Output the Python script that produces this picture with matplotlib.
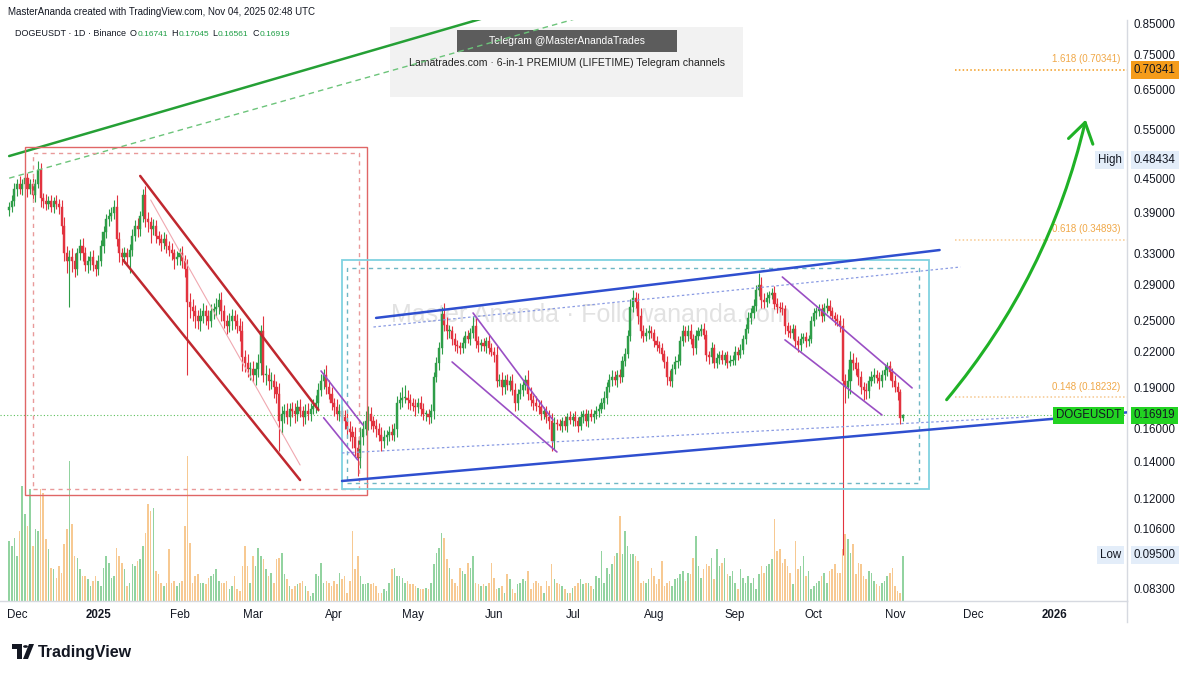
import matplotlib
matplotlib.use('Agg')
import matplotlib.pyplot as plt
import matplotlib.dates as mdates
import matplotlib.transforms as mtransforms
from matplotlib.patches import Rectangle, FancyArrowPatch, Polygon, Circle
from matplotlib.ticker import FixedLocator, NullLocator, FuncFormatter
import numpy as np
import pandas as pd

plt.rcParams['font.family'] = ['Liberation Sans', 'DejaVu Sans']

W, H = 1200, 675

# ---- данные: дневные свечи DOGEUSDT (оценка по картинке) ----
start_day = '2024-11-28'
first_open = 0.395
closes = [
    0.400, 0.410, 0.430, 0.440, 0.430, 0.440, 0.450, 0.430, 0.440, 0.420,
    0.440, 0.465, 0.415, 0.410, 0.405, 0.410, 0.400, 0.410, 0.405, 0.400,
    0.370, 0.330, 0.320, 0.325, 0.320, 0.310, 0.330, 0.340, 0.330, 0.315,
    0.320, 0.325, 0.315, 0.310, 0.320, 0.340, 0.360, 0.380, 0.385, 0.390,
    0.400, 0.350, 0.330, 0.325, 0.330, 0.325, 0.335, 0.355, 0.370, 0.365,
    0.385, 0.420, 0.380, 0.375, 0.365, 0.370, 0.355, 0.350, 0.345, 0.350,
    0.340, 0.335, 0.330, 0.322, 0.325, 0.330, 0.320, 0.310, 0.270, 0.265,
    0.260, 0.255, 0.250, 0.255, 0.260, 0.255, 0.250, 0.260, 0.262, 0.265,
    0.272, 0.260, 0.250, 0.245, 0.250, 0.255, 0.250, 0.245, 0.240, 0.215,
    0.210, 0.205, 0.205, 0.200, 0.205, 0.210, 0.240, 0.200, 0.200, 0.195,
    0.195, 0.190, 0.185, 0.165, 0.170, 0.172, 0.168, 0.174, 0.172, 0.170,
    0.175, 0.172, 0.168, 0.172, 0.170, 0.174, 0.176, 0.178, 0.188, 0.195,
    0.200, 0.190, 0.185, 0.178, 0.175, 0.170, 0.172, 0.168, 0.165, 0.160,
    0.158, 0.155, 0.148, 0.142, 0.155, 0.160, 0.165, 0.170, 0.165, 0.162,
    0.160, 0.156, 0.152, 0.155, 0.156, 0.158, 0.156, 0.160, 0.178, 0.180,
    0.182, 0.182, 0.180, 0.178, 0.176, 0.175, 0.178, 0.174, 0.170, 0.170,
    0.168, 0.172, 0.198, 0.210, 0.223, 0.257, 0.246, 0.240, 0.240, 0.232,
    0.226, 0.225, 0.223, 0.228, 0.235, 0.232, 0.238, 0.245, 0.230, 0.226,
    0.228, 0.225, 0.230, 0.223, 0.220, 0.217, 0.195, 0.196, 0.190, 0.196,
    0.192, 0.195, 0.188, 0.178, 0.185, 0.188, 0.192, 0.196, 0.185, 0.180,
    0.178, 0.176, 0.175, 0.170, 0.172, 0.168, 0.165, 0.152, 0.164, 0.163,
    0.162, 0.165, 0.162, 0.168, 0.166, 0.168, 0.165, 0.162, 0.168, 0.170,
    0.165, 0.170, 0.168, 0.170, 0.172, 0.174, 0.178, 0.182, 0.190, 0.196,
    0.198, 0.196, 0.200, 0.198, 0.212, 0.218, 0.235, 0.265, 0.275, 0.270,
    0.255, 0.240, 0.235, 0.238, 0.240, 0.238, 0.230, 0.226, 0.223, 0.218,
    0.211, 0.198, 0.195, 0.205, 0.211, 0.212, 0.230, 0.240, 0.235, 0.240,
    0.232, 0.223, 0.235, 0.240, 0.242, 0.236, 0.217, 0.215, 0.223, 0.210,
    0.214, 0.217, 0.213, 0.217, 0.210, 0.212, 0.213, 0.220, 0.217, 0.222,
    0.232, 0.242, 0.253, 0.258, 0.266, 0.284, 0.290, 0.272, 0.270, 0.275,
    0.278, 0.280, 0.268, 0.265, 0.264, 0.262, 0.245, 0.240, 0.238, 0.242,
    0.230, 0.226, 0.232, 0.234, 0.230, 0.232, 0.250, 0.258, 0.260, 0.262,
    0.255, 0.264, 0.266, 0.260, 0.255, 0.252, 0.250, 0.245, 0.195, 0.190,
    0.195, 0.213, 0.210, 0.205, 0.198, 0.190, 0.188, 0.187, 0.195, 0.198,
    0.200, 0.197, 0.195, 0.200, 0.204, 0.207, 0.202, 0.195, 0.190, 0.186,
    0.16741, 0.16919,
]
# тени свечей, в тысячных долях доллара
wick_up = [
    8, 10, 12, 9, 14, 8, 12, 10, 9, 11, 8, 19, 15, 9, 12, 8, 10, 7, 9, 8,
    12, 14, 10, 9, 12, 10, 8, 10, 12, 9, 7, 8, 10, 6, 8, 9, 10, 8, 12, 10,
    12, 20, 10, 8, 9, 7, 8, 10, 9, 12, 8, 10, 15, 12, 8, 10, 9, 7, 8, 10,
    8, 7, 9, 6, 8, 7, 10, 8, 12, 10, 8, 7, 6, 8, 9, 7, 6, 8, 7, 10,
    8, 9, 7, 6, 8, 7, 6, 7, 8, 10, 7, 8, 6, 7, 6, 8, 6, 15, 8, 6,
    7, 6, 5, 8, 6, 5, 6, 4, 5, 6, 5, 6, 4, 5, 6, 4, 5, 6, 5, 6,
    5, 8, 6, 5, 4, 6, 5, 4, 5, 6, 5, 4, 6, 5, 6, 5, 7, 6, 5, 4,
    5, 4, 5, 4, 3, 4, 5, 4, 5, 6, 8, 10, 6, 5, 4, 5, 4, 5, 4, 3,
    4, 5, 4, 5, 6, 8, 12, 8, 6, 5, 6, 5, 4, 6, 5, 6, 5, 10, 8, 5,
    4, 5, 4, 6, 5, 4, 8, 5, 6, 4, 5, 4, 6, 5, 4, 5, 4, 4, 8, 5,
    4, 5, 4, 5, 3, 4, 5, 6, 4, 3, 4, 3, 4, 3, 4, 3, 4, 3, 4, 3,
    4, 3, 4, 3, 4, 3, 4, 5, 4, 5, 6, 5, 4, 5, 4, 5, 6, 8, 9, 7,
    10, 8, 6, 5, 6, 5, 4, 5, 4, 5, 4, 5, 6, 4, 5, 6, 5, 6, 5, 6,
    7, 5, 6, 4, 5, 6, 5, 4, 6, 4, 5, 4, 5, 3, 4, 5, 4, 5, 4, 5,
    4, 5, 6, 5, 7, 6, 15, 10, 8, 6, 5, 6, 8, 6, 5, 6, 5, 4, 6, 5,
    4, 5, 6, 4, 5, 4, 5, 6, 5, 6, 6, 5, 8, 6, 5, 4, 5, 6, 8, 6,
    10, 8, 6, 5, 6, 5, 4, 5, 4, 5, 6, 4, 5, 4, 5, 4, 5, 4, 5, 4,
    3, 1,
]
wick_dn = [
    10, 8, 9, 12, 8, 10, 8, 14, 9, 10, 12, 8, 15, 12, 10, 8, 9, 10, 8, 12,
    12, 10, 15, 55, 14, 10, 8, 9, 10, 8, 10, 12, 8, 9, 8, 7, 9, 8, 10, 8,
    9, 10, 12, 10, 8, 10, 20, 9, 8, 12, 10, 9, 12, 15, 20, 9, 10, 8, 12, 9,
    10, 8, 9, 12, 8, 10, 9, 10, 70, 12, 10, 12, 8, 10, 7, 9, 8, 6, 8, 7,
    8, 10, 7, 8, 6, 9, 8, 7, 10, 12, 8, 7, 9, 6, 8, 7, 10, 6, 8, 7,
    6, 8, 7, 19, 8, 6, 5, 6, 4, 6, 5, 4, 6, 5, 4, 5, 4, 5, 6, 5,
    6, 5, 4, 5, 6, 4, 5, 4, 5, 6, 6, 7, 5, 10, 6, 5, 4, 6, 5, 4,
    5, 4, 6, 4, 5, 4, 3, 4, 5, 4, 5, 4, 6, 5, 4, 6, 4, 5, 4, 5,
    5, 4, 5, 4, 6, 5, 6, 8, 7, 6, 5, 6, 5, 4, 5, 4, 6, 5, 7, 6,
    5, 4, 6, 5, 4, 6, 5, 4, 6, 5, 4, 5, 4, 6, 5, 4, 5, 4, 5, 4,
    5, 4, 5, 4, 3, 4, 5, 6, 5, 4, 3, 4, 3, 4, 3, 4, 3, 4, 3, 4,
    3, 4, 3, 4, 3, 4, 3, 4, 5, 4, 5, 4, 6, 5, 4, 5, 4, 5, 6, 7,
    8, 7, 6, 5, 6, 5, 6, 5, 4, 5, 5, 6, 4, 5, 4, 5, 4, 5, 6, 5,
    5, 6, 5, 4, 5, 4, 5, 6, 5, 4, 4, 5, 4, 5, 4, 3, 4, 5, 4, 3,
    4, 5, 4, 6, 5, 6, 7, 8, 6, 5, 6, 5, 6, 7, 5, 6, 8, 6, 5, 6,
    7, 6, 5, 4, 6, 5, 4, 5, 6, 5, 6, 5, 6, 5, 4, 6, 5, 6, 100, 12,
    8, 10, 6, 5, 6, 5, 8, 6, 5, 4, 5, 4, 6, 5, 4, 5, 6, 5, 4, 6,
    4, 2,
]
# объём (условные единицы)
volume = [
    60, 55, 63, 45, 70, 115, 87, 75, 112, 55, 72, 70, 112, 108, 62, 52, 33, 32, 23, 35,
    28, 57, 72, 140, 77, 45, 43, 32, 25, 25, 22, 15, 20, 25, 20, 15, 33, 45, 38, 23,
    25, 53, 45, 38, 32, 15, 18, 37, 35, 40, 42, 55, 68, 97, 90, 93, 30, 27, 18, 15,
    18, 52, 18, 20, 15, 18, 20, 75, 145, 58, 18, 25, 27, 18, 18, 17, 23, 25, 27, 32,
    20, 18, 18, 20, 12, 15, 25, 12, 10, 35, 55, 35, 18, 45, 35, 53, 45, 42, 32, 25,
    28, 18, 42, 43, 48, 27, 22, 15, 12, 15, 17, 18, 20, 15, 10, 5, 8, 27, 25, 38,
    18, 20, 18, 15, 20, 17, 28, 22, 25, 8, 20, 70, 32, 45, 25, 17, 17, 18, 17, 18,
    15, 8, 8, 12, 10, 18, 32, 33, 25, 25, 23, 18, 20, 17, 17, 15, 13, 12, 12, 13,
    12, 18, 37, 48, 53, 68, 63, 42, 33, 22, 18, 15,
    33, 30, 27, 38, 33, 45, 18, 17, 15, 17, 15, 18, 38, 23, 12, 13, 15, 8, 27, 22,
    12, 8, 17, 18, 22, 20, 30, 12, 18, 20, 18, 15, 8, 20, 15, 37, 22, 18, 17, 15,
    12, 8, 8, 13, 15, 18, 22, 17, 18, 18, 15, 12, 25, 23, 50, 18, 33, 27, 37, 45,
    48, 85, 47, 70, 55, 47, 47, 45, 40, 18, 20, 18,
    22, 33, 25, 17, 22, 40, 15, 18, 20, 15, 22, 23, 27, 30, 20, 28, 27, 43, 65, 35,
    23, 32, 37, 35, 43, 22, 52, 35, 38, 43, 27, 25, 30, 18, 12, 32, 23, 18, 25, 18,
    23, 12, 27, 35, 28, 35, 37, 42, 82, 50, 52, 38, 42, 35, 28, 17, 60, 32, 35, 45,
    25, 30, 12, 15, 18, 20, 25, 28, 18, 30, 32, 37, 28, 28, 52, 67, 62, 48, 57, 27,
    38, 37, 25, 22, 30, 28, 20, 17, 15, 18, 20, 25, 28, 33, 15, 10, 8, 45,
]

ohlc_last = [0.16741, 0.17045, 0.16561, 0.16919]
last_price = 0.16919
high_price = 0.48434
low_price = 0.09500
fib_ratios = ['1.618', '0.618', '0.148']
fib_prices = [0.70341, 0.34893, 0.18232]
fib_start = '2025-11-24'

price_ticks = [0.85, 0.75, 0.65, 0.55, 0.45, 0.39, 0.33, 0.29, 0.25, 0.22,
               0.19, 0.16, 0.14, 0.12, 0.106, 0.083]
month_ticks = ['2024-12-01', '2025-01-01', '2025-02-01', '2025-03-01', '2025-04-01',
               '2025-05-01', '2025-06-01', '2025-07-01', '2025-08-01', '2025-09-01',
               '2025-10-01', '2025-11-01', '2025-12-01', '2026-01-01']
month_labels = ['Dec', '2025', 'Feb', 'Mar', 'Apr', 'May', 'Jun', 'Jul', 'Aug',
                'Sep', 'Oct', 'Nov', 'Dec', '2026']

# ---- рисунки на графике (дата, цена) ----
green_trend = [('2024-11-28', 0.493), ('2025-05-27', 0.868)]
green_trend_dash = [('2024-11-28', 0.450), ('2025-07-02', 0.868)]
red_box = [('2024-12-04', 0.512), ('2025-04-13 12:00', 0.1219)]
red_box_inner = [('2024-12-07', 0.4993), ('2025-04-10 12:00', 0.125)]
cyan_box = [('2025-04-04', 0.3211), ('2025-11-14', 0.125)]
cyan_box_inner = [('2025-04-06', 0.311), ('2025-11-10', 0.1281)]
blue_upper = [('2025-04-17', 0.2529), ('2025-11-18', 0.3346)]
blue_lower = [('2025-04-04', 0.1291), ('2026-01-29', 0.1714)]
blue_upper_dot = [('2025-04-16', 0.2436), ('2025-11-26', 0.312)]
blue_lower_dot = [('2025-04-04', 0.1449), ('2025-12-22', 0.1681)]
red_chan_upper = [('2025-01-17', 0.4542), ('2025-03-26', 0.1731)]
red_chan_lower = [('2025-01-10 12:00', 0.3211), ('2025-03-19', 0.1296)]
red_chan_mid = [('2025-01-21', 0.4114), ('2025-03-19', 0.1379)]
purple_lines = [
    [('2025-03-27', 0.2032), ('2025-04-12', 0.1626)],
    [('2025-03-28', 0.1675), ('2025-04-10', 0.1408)],
    [('2025-05-24', 0.2581), ('2025-06-23 12:00', 0.166)],
    [('2025-05-16', 0.2109), ('2025-06-25', 0.1455)],
    [('2025-09-19', 0.2994), ('2025-11-07 12:00', 0.1895)],
    [('2025-09-20', 0.231), ('2025-10-27', 0.1695)],
]
arrow_path = [('2025-11-20', 0.1789), ('2026-01-13', 0.5793)]


def d(s):
    return mdates.date2num(pd.Timestamp(s))


def fx(x):
    return x / W


def fy(y):
    return 1 - y / H


n = min(len(closes), len(wick_up), len(wick_dn), len(volume))
dates = pd.date_range(start_day, periods=n, freq='D')
x = mdates.date2num(dates)
c = np.array(closes[:n])
o = np.array([first_open] + closes[:n - 1])
hi = np.maximum(o, c) + np.array(wick_up[:n]) / 1000
lo = np.minimum(o, c) - np.array(wick_dn[:n]) / 1000
up = c >= o

fig = plt.figure(figsize=(12, 6.75), dpi=100)
fig.patch.set_facecolor('white')
rect = [0, 1 - 601 / H, 1127 / W, (601 - 20) / H]
ax_v = fig.add_axes(rect)
ax = fig.add_axes(rect, sharex=ax_v)
ax.patch.set_visible(False)

# объём на нижней оси
ax_v.bar(x, volume[:n], width=0.6, color=np.where(up, '#92d3a0', '#f7c992'), zorder=1)
ax_v.set_ylim(0, 581)
ax_v.axis('off')

# водяные знаки и блок с рекламой (под линиями)
ax_v.add_patch(Rectangle((fx(390), fy(97)), 353 / W, 70 / H, transform=fig.transFigure,
                         fc='#f2f2f2', ec='none', zorder=0))
ax_v.add_patch(Rectangle((fx(457), fy(52)), 220 / W, 22 / H, transform=fig.transFigure,
                         fc='#5c5c5c', ec='none', zorder=0.5))
ax_v.text(fx(567), fy(41), 'Telegram @MasterAnandaTrades', transform=fig.transFigure,
          ha='center', va='center', color='white', fontsize=7.5)
ax_v.text(fx(567), fy(63), 'Lamatrades.com · 6-in-1 PREMIUM (LIFETIME) Telegram channels',
          transform=fig.transFigure, ha='center', va='center', color='#222222', fontsize=7.6)
ax_v.text(fx(591), fy(315), 'Master Ananda · Followananda.com', transform=fig.transFigure,
          ha='center', va='center', color='#e2e2e2', fontsize=18)

# свечи
body_bot = np.minimum(o, c)
body_h = np.maximum(np.abs(c - o), 0.0006)
col = np.where(up, '#2e9d48', '#e2333f')
ax.vlines(x, lo, hi, colors=col, lw=0.8, zorder=3)
ax.bar(x, body_h, bottom=body_bot, width=0.8, color=col, ec=col, lw=0.3, zorder=3)

ax.set_yscale('log')
ax.set_ylim(0.0787, 0.864)
ax.set_xlim(x[0] - 3.49, x[0] + 426.5)


def seg(pts, **kw):
    (d0, p0), (d1, p1) = pts
    ax.plot([d(d0), d(d1)], [p0, p1], solid_capstyle='round', **kw)


def box(pts, **kw):
    (d0, p0), (d1, p1) = pts
    ax.add_patch(Rectangle((d(d0), p1), d(d1) - d(d0), p0 - p1, fill=False, **kw))


seg(green_trend, color='#25a035', lw=1.8, zorder=4)
seg(green_trend_dash, color='#6cc47a', lw=1.0, ls=(0, (4, 3)), zorder=4)
box(red_box, ec='#e06666', lw=1.0, zorder=4)
box(red_box_inner, ec='#e99a9a', lw=1.0, ls=(0, (3, 3)), zorder=4)
box(cyan_box, ec='#80d2e0', lw=1.3, zorder=4)
box(cyan_box_inner, ec='#6fb7c4', lw=1.0, ls=(0, (3, 3)), zorder=4)
seg(blue_upper, color='#2f4fcf', lw=1.8, zorder=5)
seg(blue_lower, color='#2f4fcf', lw=1.8, zorder=5)
seg(blue_upper_dot, color='#8a9be3', lw=0.9, ls=(0, (2, 2)), zorder=4)
seg(blue_lower_dot, color='#8a9be3', lw=0.9, ls=(0, (2, 2)), zorder=4)
seg(red_chan_upper, color='#c0282f', lw=1.8, zorder=5)
seg(red_chan_lower, color='#c0282f', lw=1.8, zorder=5)
seg(red_chan_mid, color='#f0a8b0', lw=0.8, zorder=4)
for pts in purple_lines:
    seg(pts, color='#9a4fc4', lw=1.2, zorder=5)

# текущая цена
ax.axhline(last_price, color='#5cc05c', lw=0.8, ls=(0, (1, 2)), zorder=2)

# уровни Фибоначчи
fib_colors = ['#f29a1c', '#f8c98e', '#f6c88f']
blend = mtransforms.blended_transform_factory(ax.transAxes, ax.transData)
for ratio, level, fc in zip(fib_ratios, fib_prices, fib_colors):
    ax.hlines(level, d(fib_start), ax.get_xlim()[1], colors=fc, lw=1.1,
              linestyles=(0, (1, 1.5)), zorder=4)
    ax.annotate(f'{ratio} ({level:.5f})', xy=(0.994, level), xycoords=blend,
                xytext=(0, 4), textcoords='offset points', ha='right', va='bottom',
                color='#f0a848', fontsize=7)

# зелёная стрелка вверх
(a0, pa), (a1, pb) = arrow_path
ax.add_patch(FancyArrowPatch((d(a0), pa), (d(a1), pb), connectionstyle='arc3,rad=0.12',
                             arrowstyle='->,head_length=0.7,head_width=0.45',
                             mutation_scale=20, color='#1fb126', lw=2.2, zorder=6))

# оси
for s in ['left', 'top']:
    ax.spines[s].set_visible(False)
for s in ['right', 'bottom']:
    ax.spines[s].set_color('#d6d9e0')
    ax.spines[s].set_linewidth(1.0)
ax.yaxis.tick_right()
ax.yaxis.set_major_locator(FixedLocator(price_ticks))
ax.yaxis.set_minor_locator(NullLocator())
ax.yaxis.set_major_formatter(FuncFormatter(lambda v, _: f'{v:.5f}'))
ax.tick_params(axis='y', length=0, pad=5, labelsize=8.3, labelcolor='#131722')
ax.set_xticks([d(m) for m in month_ticks])
ax.set_xticklabels(month_labels)
ax.tick_params(axis='x', length=0, pad=6, labelsize=8.3, labelcolor='#131722')
for lab in ax.get_xticklabels():
    if lab.get_text() in ('2025', '2026'):
        lab.set_fontweight('bold')


def badge(price, text, bg, side='right'):
    if side == 'right':
        ax.annotate(text, xy=(1, price), xycoords=blend, xytext=(5, 0),
                    textcoords='offset points', ha='left', va='center', fontsize=8.3,
                    color='#131722', annotation_clip=False, zorder=8,
                    bbox=dict(boxstyle='square,pad=0.25', fc=bg, ec='none'))
    else:
        ax.annotate(text, xy=(1, price), xycoords=blend, xytext=(-4, 0),
                    textcoords='offset points', ha='right', va='center', fontsize=8.3,
                    color='#131722', annotation_clip=False, zorder=8,
                    bbox=dict(boxstyle='square,pad=0.25', fc=bg, ec='none'))


badge(fib_prices[0], f'{fib_prices[0]:.5f}', '#f59c1a')
badge(high_price, f'{high_price:.5f}', '#e3edf9')
badge(high_price, 'High', '#e3edf9', side='left')
badge(low_price, f'{low_price:.5f}', '#e3edf9')
badge(low_price, 'Low', '#e3edf9', side='left')
badge(last_price, f'{last_price:.5f}', '#22d322')
badge(last_price, 'DOGEUSDT', '#22d322', side='left')

# разделитель оси цены до низа шкалы времени
fig.add_artist(plt.Line2D([fx(1127), fx(1127)], [fy(601), fy(622)], color='#d6d9e0', lw=1.0))

# заголовки
fig.text(fx(8), fy(12), 'MasterAnanda created with TradingView.com, Nov 04, 2025 02:48 UTC',
         ha='left', va='center', fontsize=7.0, color='#131722')

renderer = fig.canvas.get_renderer()
dark, green = '#131722', '#1e9e45'
pieces = [('DOGEUSDT · 1D · Binance', dark, 6.5, 4)]
for letter, val in zip('OHLC', ohlc_last):
    pieces += [(letter, dark, 6.5, 0.5), (f'{val:.5f}', green, 6.0, 3.5)]
xpos = 15
for txt, color, size, gap in pieces:
    t = fig.text(fx(xpos), fy(34), txt, ha='left', va='center', fontsize=size, color=color)
    xpos = t.get_window_extent(renderer).x1 + gap

# логотип TradingView
logo_col = '#131722'
fig.add_artist(Polygon([(fx(12), fy(644)), (fx(22), fy(644)), (fx(22), fy(659)),
                        (fx(17), fy(659)), (fx(17), fy(649)), (fx(12), fy(649))],
                       closed=True, transform=fig.transFigure, fc=logo_col, ec='none'))
fig.add_artist(Circle((fx(25.5), fy(646.5)), 2.4 / W, transform=fig.transFigure,
                      fc=logo_col, ec='none'))
fig.add_artist(Polygon([(fx(29), fy(644)), (fx(34), fy(644)), (fx(28), fy(659)),
                        (fx(23), fy(659))], closed=True, transform=fig.transFigure,
                       fc=logo_col, ec='none'))
fig.text(fx(38), fy(652), 'TradingView', ha='left', va='center', fontsize=11.5,
         fontweight='bold', color=logo_col)

fig.savefig('out.png', dpi=100)
